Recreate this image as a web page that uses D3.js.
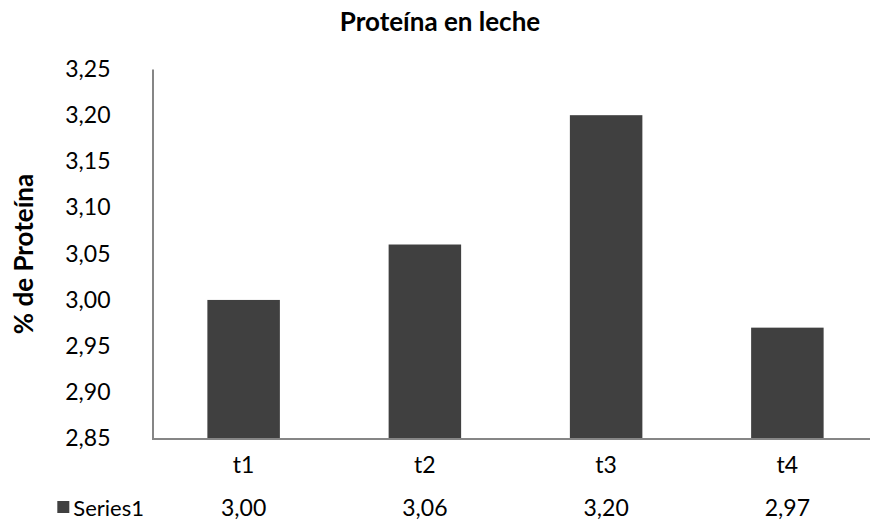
<!DOCTYPE html>
<html>
<head>
<meta charset="utf-8">
<script src="https://cdn.jsdelivr.net/npm/d3@7"></script>
<style>
  body { margin: 0; background: #fff; }
  text { font-family: Lato, "Open Sans", sans-serif; fill: #000; }
</style>
</head>
<body>
<div id="chart"></div>
<script>
// data
var categories = ["t1", "t2", "t3", "t4"];
var values = [3.00, 3.06, 3.20, 2.97];
var yTicks = [2.85, 2.90, 2.95, 3.00, 3.05, 3.10, 3.15, 3.20, 3.25];
var seriesName = "Series1";

var width = 870, height = 524;
var es = d3.formatLocale({decimal: ",", thousands: ".", grouping: [3], currency: ["", "€"]});
var fmt = es.format(".2f");

var svg = d3.select("#chart")
            .append("svg")
            .attr("width", width)
            .attr("height", height);

var x = d3.scaleBand()
          .domain(categories)
          .range([153, 878])
          .paddingInner(0.6)
          .paddingOuter(0.3);

var y = d3.scaleLinear()
          .domain([2.85, 3.25])
          .range([438.5, 69]);

// title
svg.append("text")
   .attr("x", 440)
   .attr("y", 31)
   .attr("text-anchor", "middle")
   .style("font-size", "26px")
   .style("font-weight", "bold")
   .text("Proteína en leche");

// y axis label
svg.append("text")
   .attr("transform", "translate(33,254)rotate(-90)")
   .attr("text-anchor", "middle")
   .style("font-size", "26px")
   .style("font-weight", "bold")
   .text("% de Proteína");

// bars
svg.selectAll("rect.bar")
   .data(values)
   .enter()
   .append("rect")
   .attr("class", "bar")
   .attr("x", function(d, i) { return x(categories[i]); })
   .attr("width", x.bandwidth())
   .attr("y", function(d) { return y(d); })
   .attr("height", function(d) { return y(2.85) - y(d); })
   .style("fill", "#404040");

// y axis
var yAxis = svg.append("g")
               .attr("transform", "translate(152.5,0)")
               .call(d3.axisLeft(y).tickValues(yTicks).tickFormat(fmt).tickSize(0).tickPadding(42));
yAxis.select(".domain").attr("stroke", "#868686").attr("stroke-width", 2);
yAxis.selectAll("text").style("font-size", "23px").style("font-family", "Lato, sans-serif").attr("fill", "#000");

// x axis line
svg.append("line")
   .attr("x1", 152)
   .attr("x2", width)
   .attr("y1", 439)
   .attr("y2", 439)
   .attr("stroke", "#868686")
   .attr("stroke-width", 2);

// category labels
svg.selectAll("text.cat")
   .data(categories)
   .enter()
   .append("text")
   .attr("class", "cat")
   .attr("x", function(d) { return x(d) + x.bandwidth() / 2; })
   .attr("y", 473)
   .attr("text-anchor", "middle")
   .style("font-size", "23px")
   .text(function(d) { return d; });

// data table row
svg.selectAll("text.val")
   .data(values)
   .enter()
   .append("text")
   .attr("class", "val")
   .attr("x", function(d, i) { return x(categories[i]) + x.bandwidth() / 2; })
   .attr("y", 516)
   .attr("text-anchor", "middle")
   .style("font-size", "23px")
   .text(function(d) { return fmt(d); });

var legendText = svg.append("text")
   .attr("x", 144)
   .attr("y", 516)
   .attr("text-anchor", "end")
   .style("font-size", "22px")
   .text(seriesName);

var tw = legendText.node().getComputedTextLength();

svg.append("rect")
   .attr("x", 144 - tw - 16)
   .attr("y", 501)
   .attr("width", 12)
   .attr("height", 12)
   .style("fill", "#404040");
</script>
</body>
</html>
